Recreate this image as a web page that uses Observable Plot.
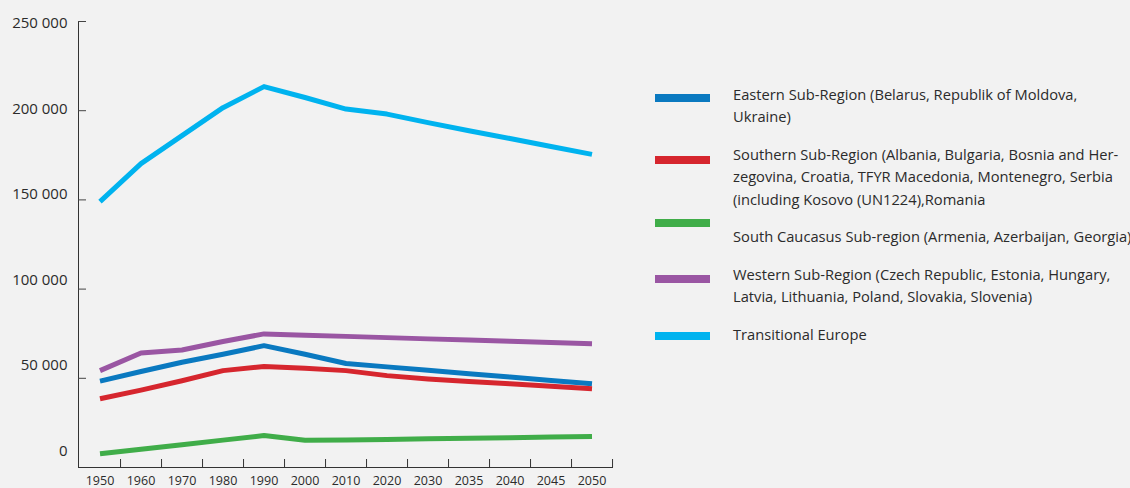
<!DOCTYPE html>
<html>
<head>
<meta charset="utf-8">
<script src="https://cdn.jsdelivr.net/npm/d3@7"></script>
<script src="https://cdn.jsdelivr.net/npm/@observablehq/plot@0.6"></script>
<style>
  body { margin: 0; background: #f2f2f2; font-family: "Open Sans", sans-serif; color: #2b2b2b; }
  #wrap { position: relative; width: 1130px; height: 488px; overflow: hidden; background: #f2f2f2; }
  #wrap svg { position: absolute; left: 0; top: 0; background: transparent; }
  #legend { position: absolute; left: 655px; top: 0; width: 475px; height: 488px; }
  .sw { position: absolute; left: 0; width: 55px; height: 8px; }
  .lab { position: absolute; left: 78px; font-size: 14.7px; line-height: 22.5px; white-space: nowrap; color: #2b2b2b; }
</style>
</head>
<body>
<div id="wrap"><div id="legend"></div></div>
<script>
// ---- data ----
const years = ["1950","1960","1970","1980","1990","2000","2010","2020","2030","2035","2040","2045","2050"];
const yTicks = [0, 50000, 100000, 150000, 200000, 250000];

const eastern      = [48400, 53800, 59000, 63500, 68300, 63500, 58300, 56400, 54500, 52600, 50700, 48800, 46900];
const southern     = [38500, 43400, 48600, 54300, 56600, 55700, 54300, 51500, 49600, 48200, 46900, 45500, 44100];
const caucasus     = [7700, 10250, 12800, 15350, 17900, 15300, 15400, 15700, 16100, 16400, 16700, 17100, 17400];
const western      = [54300, 64200, 65900, 70600, 74900, 74200, 73500, 72800, 72100, 71400, 70700, 70000, 69300];
const transitional = [149000, 170300, 186000, 201700, 213500, 207400, 200900, 198100, 193300, 188800, 184400, 179900, 175500];

const seriesNames = ["Eastern", "Southern", "South Caucasus", "Western", "Transitional Europe"];
const seriesValues = [eastern, southern, caucasus, western, transitional];
const seriesColors = ["#0a79c0", "#d6262e", "#40ad49", "#9a56a3", "#00b3ef"];
const legendLines = [
  ["Eastern Sub-Region (Belarus, Republik of Moldova,", "Ukraine)"],
  ["Southern Sub-Region (Albania, Bulgaria, Bosnia and Her-", "zegovina, Croatia, TFYR Macedonia, Montenegro, Serbia", "(including Kosovo (UN1224),Romania"],
  ["South Caucasus Sub-region (Armenia, Azerbaijan, Georgia)"],
  ["Western Sub-Region (Czech Republic, Estonia, Hungary,", "Latvia, Lithuania, Poland, Slovakia, Slovenia)"],
  ["Transitional Europe"]
];

// ---- build table ----
const table = seriesNames.flatMap((name, s) =>
  seriesValues[s].map((v, i) => ({series: name, year: years[i], value: v})));

const fmt = d3.formatLocale({thousands: " ", grouping: [3], decimal: "."}).format(",");

const W = 1130, H = 488;
const mL = 78, xEnd = 612, mT = 21, mB = 21;
const bw = (xEnd - mL) / years.length;
const font = "'Open Sans', sans-serif";

const main = Plot.plot({
  width: W, height: H,
  marginLeft: mL, marginRight: W - xEnd, marginTop: mT, marginBottom: mB,
  style: {background: "transparent", fontFamily: font, color: "#2b2b2b", overflow: "visible"},
  x: {type: "band", domain: years, padding: 0, label: null},
  y: {domain: [0, 250000], label: null},
  color: {domain: seriesNames, range: seriesColors},
  marks: [
    Plot.frame({anchor: "left", stroke: "#333", strokeWidth: 1}),
    Plot.frame({anchor: "bottom", stroke: "#333", strokeWidth: 1}),
    Plot.axisY({ticks: yTicks.filter(v => v > 0), tickSize: 8, dx: 8, tickFormat: () => "", stroke: "#444"}),
    Plot.axisX({tickSize: 8, dy: -8, dx: bw / 2, tickFormat: () => "", stroke: "#333"}),
    Plot.axisX({tickSize: 0, tickPadding: 8.5, fontSize: 12.5, fill: "#2b2b2b"}),
    Plot.line(table, {x: "year", y: "value", z: "series", stroke: "series", strokeWidth: 5, strokeLinejoin: "round", strokeLinecap: "butt"})
  ]
});

// y tick labels (placed on their own scale, as in the source graphic)
const ylab = Plot.plot({
  width: W, height: H,
  marginLeft: mL, marginRight: W - xEnd, marginTop: mT, marginBottom: mB,
  style: {background: "transparent", fontFamily: font, color: "#2b2b2b"},
  x: {axis: null},
  y: {domain: [0, 250000], range: [450.7, 23], label: null},
  marks: [
    Plot.axisY({ticks: yTicks, tickSize: 0, tickPadding: 11, tickFormat: fmt, fontSize: 15, fill: "#2b2b2b"})
  ]
});

const wrap = document.getElementById("wrap");
wrap.insertBefore(ylab, wrap.firstChild);
wrap.insertBefore(main, wrap.firstChild);

// ---- legend ----
const legendBox = document.getElementById("legend");
const swatchTops = [94, 156, 219, 275.3, 331.7];
let textTop = 82.75;
legendLines.forEach((lines, i) => {
  const sw = document.createElement("div");
  sw.className = "sw";
  sw.style.background = seriesColors[i];
  sw.style.top = swatchTops[i] + "px";
  legendBox.appendChild(sw);
  const lab = document.createElement("div");
  lab.className = "lab";
  lab.style.top = textTop + "px";
  lab.innerHTML = lines.join("<br>");
  legendBox.appendChild(lab);
  textTop += lines.length * 22.5 + 15;
});
</script>
</body>
</html>
